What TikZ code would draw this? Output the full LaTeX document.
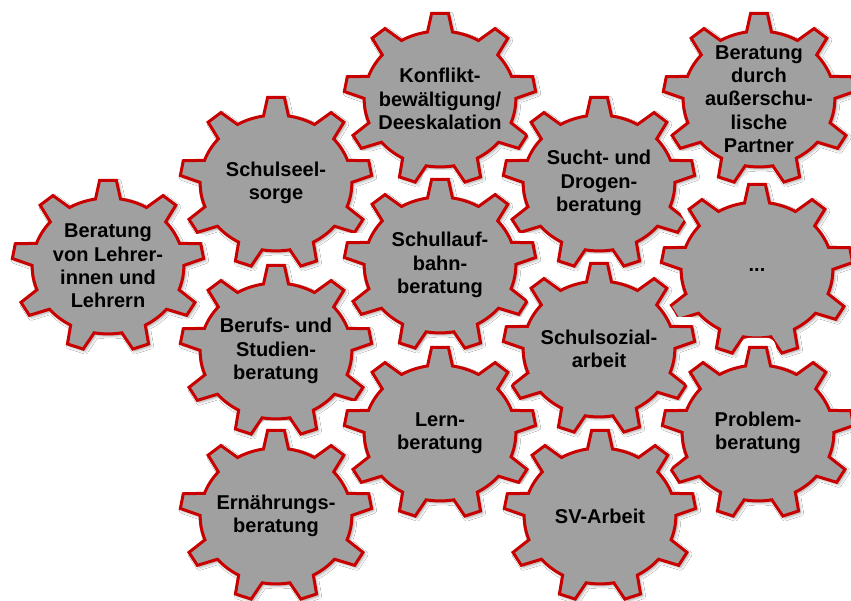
\documentclass[tikz,border=0pt]{standalone}
\usepackage{fontspec}
\setmainfont{Liberation Sans}
\usetikzlibrary{shadows.blur}
\definecolor{gearred}{RGB}{200,0,0}
\definecolor{gearfill}{RGB}{160,160,160}
\def\gearpath{(80.5:75.84pt and 67.94pt) \foreach \a in {90,130,...,410}{ -- (\a-9.5:75.84pt and 67.94pt) -- (\a-5:96pt and 86pt) -- (\a+5:96pt and 86pt) -- (\a+9.5:75.84pt and 67.94pt) arc[start angle=\a+9.5, end angle=\a+30.5, x radius=75.84pt, y radius=67.94pt]} -- cycle}
\tikzset{
  gear/.pic={
    \path[draw=white, line width=19pt, line join=round] \gearpath;
    \path[fill=black, fill opacity=0.3, blur shadow={shadow xshift=2pt, shadow yshift=-2pt, shadow blur radius=3pt, shadow opacity=40}] \gearpath;
    \path[fill=gearfill, draw=gearred, line width=3pt, line join=miter] \gearpath;
  },
  lbl/.style={align=center, font=\bfseries\fontsize{20}{23.3}\selectfont, text=black, inner sep=0pt}
}
\begin{document}
\begin{tikzpicture}[x=1pt,y=-1pt]
\useasboundingbox (0,0) rectangle (851,600);
% gears, drawn from top row to bottom row
\pic at (440,99) {gear};
\pic at (759,99) {gear};
\pic at (276,183) {gear};
\pic at (599,183) {gear};
\pic at (440,265) {gear};
\pic at (108,266) {gear};
\pic at (757,270) {gear};
\pic at (599,349) {gear};
\pic at (276,351) {gear};
\pic at (440,433) {gear};
\pic at (758,433) {gear};
\pic at (276,516) {gear};
\pic at (600,516) {gear};
% labels
\node[lbl] (konflikt) at (440,99) {Konflikt-\\bewältigung/\\Deeskalation};
\node[lbl] (partner) at (759,99) {Beratung\\durch\\außerschu-\\lische\\Partner};
\node[lbl] (seelsorge) at (276,183) {Schulseel-\\sorge};
\node[lbl] (sucht) at (599,183) {Sucht- und\\Drogen-\\beratung};
\node[lbl] (laufbahn) at (440,265) {Schullauf-\\bahn-\\beratung};
\node[lbl] (lehrer) at (108,266) {Beratung\\von Lehrer-\\innen und\\Lehrern};
\node[lbl] (dots) at (757,270) {...};
\node[lbl] (sozial) at (599,349) {Schulsozial-\\arbeit};
\node[lbl] (berufs) at (276,351) {Berufs- und\\Studien-\\beratung};
\node[lbl] (lern) at (440,433) {Lern-\\beratung};
\node[lbl] (problem) at (758,433) {Problem-\\beratung};
\node[lbl] (ernaehrung) at (276,516) {Ernährungs-\\beratung};
\node[lbl] (sv) at (600,516) {SV-Arbeit};
\end{tikzpicture}
\end{document}
